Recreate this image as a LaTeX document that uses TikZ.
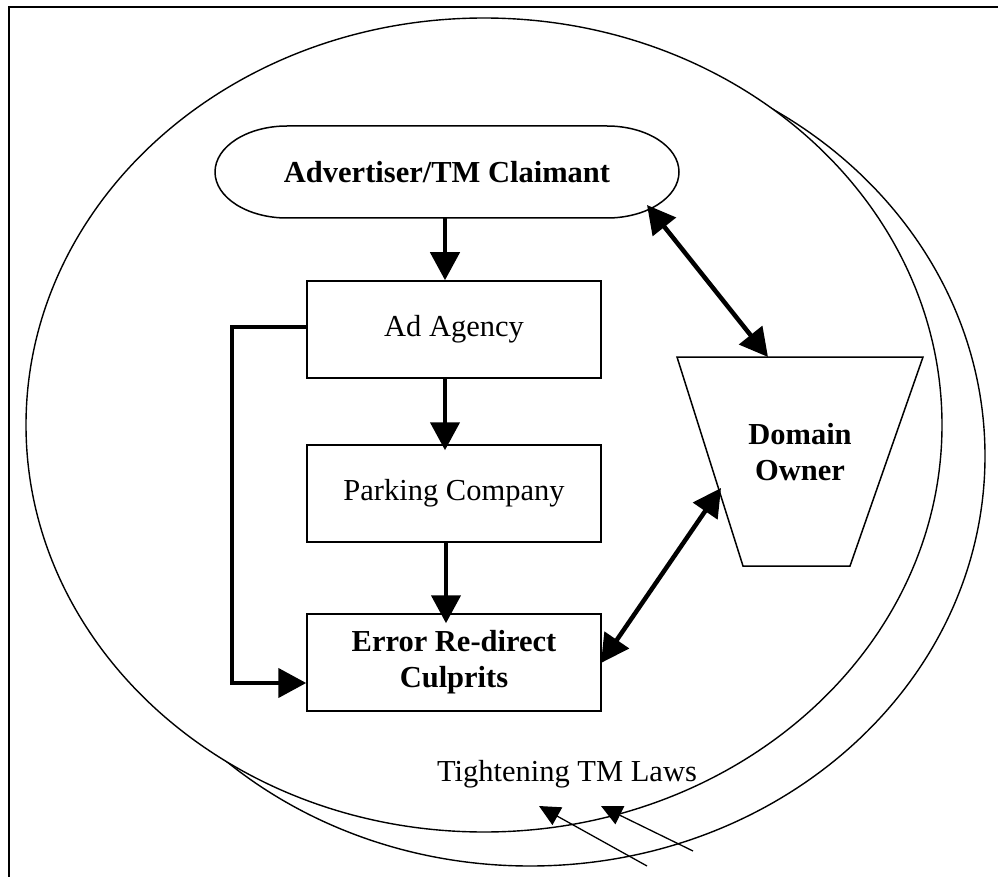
\documentclass[tikz,border=0pt]{standalone}
\usepackage{fontspec}
\setmainfont{Liberation Serif}
\usetikzlibrary{arrows.meta}
\begin{document}
\begin{tikzpicture}[x=1pt,y=-1pt,
  txt/.style={font=\fontsize{30.5}{36}\selectfont, align=center},
  boxnode/.style={txt, draw, line width=1.5pt, minimum width=294pt, minimum height=97pt, inner sep=0pt},
  bigarrow/.style={line width=4.5pt, -{Triangle[length=28pt,width=29pt]}},
  bigdouble/.style={line width=4.5pt, {Triangle[length=28pt,width=29pt]}-{Triangle[length=28pt,width=29pt]}},
  smallarrow/.style={line width=1.3pt, -{Triangle[length=21pt,width=20pt]}},
  ring/.style={line width=1.4pt, fill=white}
]
\useasboundingbox (0,0) rectangle (998,877);

% frame
\draw[line width=2pt] (9,877) -- (9,7) -- (998,7);

% two overlapping ellipses
\draw[ring] (530,456) ellipse [x radius=455, y radius=410];
\draw[ring] (484,425) ellipse [x radius=458, y radius=407];

% advertiser (rounded terminal)
\node[txt, minimum width=464pt, minimum height=92pt, inner sep=0pt] (adv) at (447,172) {\bfseries Advertiser/TM Claimant};
\draw[line width=1.5pt] (287,126) -- (607,126)
  arc[start angle=-90, end angle=90, x radius=72, y radius=46] -- (287,218)
  arc[start angle=90, end angle=270, x radius=72, y radius=46] -- cycle;

% chain of boxes
\node[boxnode] (agency) at (454,329.5) {Ad Agency};
\node[boxnode] (parking) at (454,493.5) {Parking Company};
\node[boxnode] (error) at (454,662.5) {\bfseries Error Re-direct\\\bfseries Culprits};

% domain owner trapezoid
\coordinate (dtl) at (677,357);
\coordinate (dtr) at (923,357);
\coordinate (dbl) at (743,566);
\coordinate (dbr) at (850,566);
\draw[line width=1.5pt] (dtl) -- (dtr) -- (dbr) -- (dbl) -- cycle;
\node[txt] (owner) at (800,452) {\bfseries Domain\\\bfseries Owner};

% flow arrows
\draw[bigarrow] (adv.south -| 445,0) -- (agency.north -| 445,0);
\draw[bigarrow] (agency.south -| 445,0) -- ([yshift=-6]parking.north -| 445,0);
\draw[bigarrow] (parking.south -| 446,0) -- ([yshift=-10]error.north -| 446,0);
\draw[bigarrow] (agency.west |- 0,327) -- (232,327) -- (232,683) -- (error.west |- 0,683);

% links with the domain owner
\coordinate (advend) at (647,205);
\coordinate (ownertop) at (768,357);
\coordinate (ownerside) at (721,488);
\coordinate (errend) at (601,663);
\draw[bigdouble] (advend) -- (ownertop);
\draw[bigdouble] (errend) -- (ownerside);

% law arrows
\node[txt, anchor=base] (laws) at (567,781) {Tightening TM Laws};
\coordinate (a1s) at (647,866);
\coordinate (a1e) at (539,806);
\coordinate (a2s) at (693,851);
\coordinate (a2e) at (601,806);
\draw[smallarrow] (a1s) -- (a1e);
\draw[smallarrow] (a2s) -- (a2e);
\end{tikzpicture}
\end{document}
